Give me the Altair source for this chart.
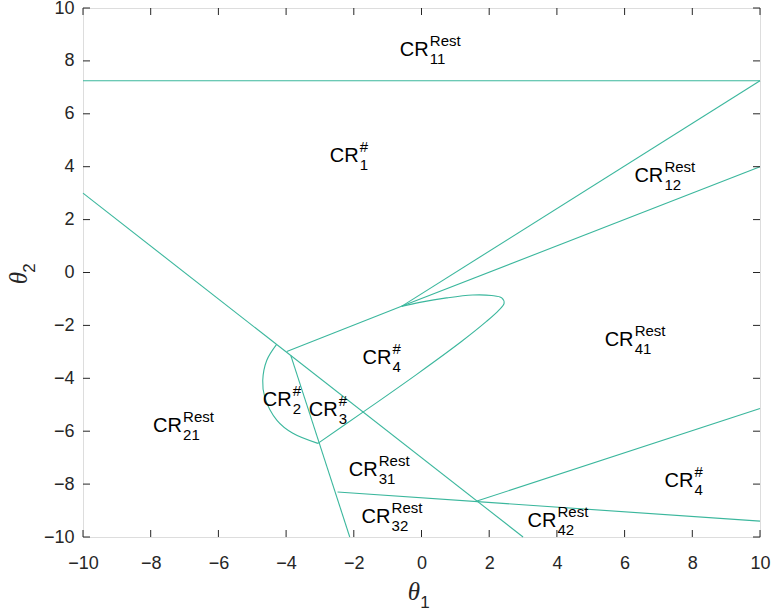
import altair as alt
import pandas as pd

# Critical-region boundaries in the (theta1, theta2) parameter plane
seg_names = ["top", "diag", "upper", "fan_a", "fan_b", "steep", "low_a", "low_b", "loop", "arc"]
seg_t1 = [
    [-10, 10],
    [-10, 3],
    [-3.98, -0.59],
    [-0.59, 10],
    [-0.59, 10],
    [-3.86, -2.12],
    [-2.48, 10],
    [1.64, 10],
    [-3.06, -1.74, -0.14, 1.19, 1.92, 2.28, 2.44, 2.37, 2.07, 1.51, 0.74, -0.05, -0.59],
    [-3.06, -3.80, -4.27, -4.63, -4.69, -4.57, -4.28],
]
seg_t2 = [
    [7.25, 7.25],
    [3, -10],
    [-2.99, -1.28],
    [-1.28, 7.25],
    [-1.28, 4.0],
    [-3.14, -10],
    [-8.30, -9.40],
    [-8.64, -5.14],
    [-6.46, -5.29, -3.85, -2.60, -1.85, -1.43, -1.17, -0.96, -0.87, -0.85, -0.96, -1.13, -1.28],
    [-6.46, -6.08, -5.59, -4.72, -4.08, -3.32, -2.72],
]

# Region labels: CR with superscript and subscript
label_t1 = [-0.64, -2.71, 6.29, 5.41, -1.74, -4.69, -3.33, -7.93, -2.15, -1.77, 3.13, 7.18]
label_t2 = [8.20, 4.16, 3.41, -2.76, -3.47, -5.06, -5.44, -6.04, -7.71, -9.48, -9.63, -8.12]
label_sup = ["Rest", "#", "Rest", "Rest", "#", "#", "#", "Rest", "Rest", "Rest", "Rest", "#"]
label_sub = ["11", "1", "12", "41", "4", "2", "3", "21", "31", "32", "42", "4"]

tick_values = [-10, -8, -6, -4, -2, 0, 2, 4, 6, 8, 10]

W, H = 677, 529
LINE = "#3bb79d"
AX = "#262626"
FONT = "Liberation Sans"

rows = []
for name, xs, ys in zip(seg_names, seg_t1, seg_t2):
    for i, (a, b) in enumerate(zip(xs, ys)):
        rows.append({"seg": name, "ord": i, "t1": a, "t2": b})
lines_df = pd.DataFrame(rows)

labels_df = pd.DataFrame({"t1": label_t1, "t2": label_t2, "sup": label_sup, "sub": label_sub})
ticks_df = pd.DataFrame({"v": tick_values})

xs = alt.Scale(domain=[-10, 10], nice=False, zero=False)
ys = alt.Scale(domain=[-10, 10], nice=False, zero=False)

x_axis = alt.Axis(values=tick_values, grid=False, domain=False, ticks=False, tickSize=0,
                  labelPadding=17, labelFlush=False, labelFont=FONT, labelFontSize=18,
                  labelColor=AX, title=None)
y_axis = alt.Axis(values=tick_values, grid=False, domain=False, ticks=False, tickSize=0,
                  labelPadding=9, labelFlush=False, labelFont=FONT, labelFontSize=18,
                  labelColor=AX, title=None)

lines = alt.Chart(lines_df).mark_line(color=LINE, strokeWidth=1.1, interpolate="catmull-rom").encode(
    x=alt.X("t1:Q", scale=xs, axis=x_axis),
    y=alt.Y("t2:Q", scale=ys, axis=y_axis),
    detail="seg:N",
    order="ord:Q",
)

base_lab = alt.Chart(labels_df)
cr = base_lab.mark_text(align="left", baseline="alphabetic", font=FONT, fontSize=20, color="black").encode(
    x=alt.X("t1:Q", scale=xs), y=alt.Y("t2:Q", scale=ys), text=alt.value("CR")
)
sup = base_lab.mark_text(align="left", baseline="alphabetic", font=FONT, fontSize=15, color="black",
                         dx=30, dy=-10).encode(
    x=alt.X("t1:Q", scale=xs), y=alt.Y("t2:Q", scale=ys), text="sup:N"
)
sub = base_lab.mark_text(align="left", baseline="alphabetic", font=FONT, fontSize=15, color="black",
                         dx=30, dy=8).encode(
    x=alt.X("t1:Q", scale=xs), y=alt.Y("t2:Q", scale=ys), text="sub:N"
)

# Inward ticks on all four sides of the frame
tk = alt.Chart(ticks_df).mark_rule(color=AX, strokeWidth=1)
tick_bottom = tk.encode(x=alt.X("v:Q", scale=xs), y=alt.value(H), y2=alt.value(H - 7))
tick_top = tk.encode(x=alt.X("v:Q", scale=xs), y=alt.value(0), y2=alt.value(7))
tick_left = tk.encode(y=alt.Y("v:Q", scale=ys), x=alt.value(0), x2=alt.value(7))
tick_right = tk.encode(y=alt.Y("v:Q", scale=ys), x=alt.value(W - 7), x2=alt.value(W))

# Axis titles: italic theta with numeric subscripts
title_df = pd.DataFrame({"k": [0]})
tt = alt.Chart(title_df)
th1 = tt.mark_text(text="θ", font="Liberation Serif", fontStyle="italic", fontSize=25,
                   align="center", baseline="alphabetic", color=AX).encode(
    x=alt.value(331), y=alt.value(592))
th1s = tt.mark_text(text="1", font=FONT, fontSize=17, align="center", baseline="alphabetic",
                    color=AX).encode(x=alt.value(342), y=alt.value(600))
th2 = tt.mark_text(text="θ", font="Liberation Serif", fontStyle="italic", fontSize=25, angle=270,
                   align="center", baseline="alphabetic", color=AX).encode(
    x=alt.value(-56), y=alt.value(270))
th2s = tt.mark_text(text="2", font=FONT, fontSize=17, angle=270, align="center",
                    baseline="alphabetic", color=AX).encode(x=alt.value(-48), y=alt.value(260))

chart = alt.layer(
    lines, tick_bottom, tick_top, tick_left, tick_right, cr, sup, sub, th1, th1s, th2, th2s
).properties(
    width=W, height=H,
    autosize=alt.AutoSizeParams(type="none"),
    padding={"left": 83, "top": 8, "right": 11, "bottom": 77},
).configure_view(stroke=AX, strokeWidth=1).configure(background="white")

chart.save("out.html", embed_options={"renderer": "svg", "actions": False})
